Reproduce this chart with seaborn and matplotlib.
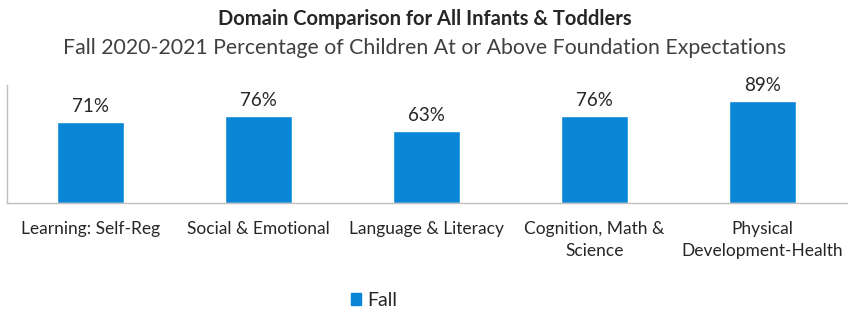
import pandas as pd
import numpy as np
import matplotlib.pyplot as plt
import seaborn as sns
from matplotlib.patches import Patch

# data
domains = ["Learning: Self-Reg", "Social & Emotional", "Language & Literacy",
           "Cognition, Math &\nScience", "Physical\nDevelopment-Health"]
fall_pct = [71, 76, 63, 76, 89]
series = ["Fall"] * len(domains)

df = pd.DataFrame({"Domain": domains, "Percent": fall_pct, "Term": series})

sns.set_style("white")
plt.rcParams['font.family'] = ['Lato', 'DejaVu Sans']

bar_color = "#0A86D6"

fig = plt.figure(figsize=(8.5, 3.18), dpi=100)
ax = fig.add_axes([0.008, 0.362, 0.988, 0.371])

sns.barplot(data=df, x="Domain", y="Percent", hue="Term", palette=[bar_color],
            saturation=1, width=0.4, ax=ax, legend=False)

#Data labels
for c in ax.containers:
    ax.bar_label(c, labels=[f"{v:.0f}%" for v in c.datavalues], padding=5,
                 fontsize=13.5, color="#262626")

ax.set_ylim(0, 103)
ax.set_xlim(-0.5, len(domains) - 0.5)
ax.set_xlabel("")
ax.set_ylabel("")
ax.set_yticks([])
ax.tick_params(axis="x", length=0, labelsize=12.5, labelcolor="#262626", pad=13)
for lbl in ax.get_xticklabels():
    lbl.set_linespacing(1.45)
ax.set_xticks(np.arange(-0.5, len(domains)), minor=True)
ax.tick_params(axis="x", which="minor", length=5, color="#BFBFBF")

for s in ["top", "right"]:
    ax.spines[s].set_visible(False)
for s in ["left", "bottom"]:
    ax.spines[s].set_color("#BFBFBF")
    ax.spines[s].set_linewidth(1)

fig.text(0.5, 0.94, "Domain Comparison for All Infants & Toddlers", ha="center",
         va="center", fontsize=14.5, fontweight="bold", color="#262626")
fig.text(0.5, 0.85, "Fall 2020-2021 Percentage of Children At or Above Foundation Expectations",
         ha="center", va="center", fontsize=15.3, color="#404040")

#Legend
fig.legend(handles=[Patch(color=bar_color, label="Fall")], loc="center",
           bbox_to_anchor=(0.44, 0.055), frameon=False, fontsize=14,
           labelcolor="#262626",
           handlelength=0.55, handleheight=0.55, handletextpad=0.3)

fig.savefig("out.png", dpi=100)
